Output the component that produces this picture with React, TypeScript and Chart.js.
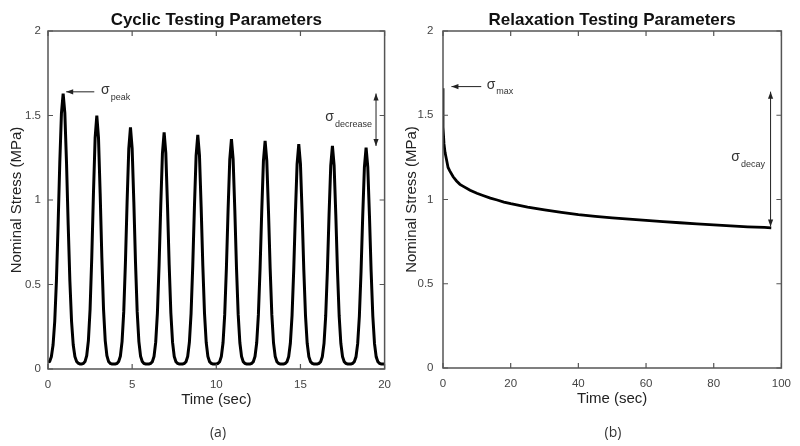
import React, { useEffect, useRef } from 'react';
import { Chart, registerables } from 'chart.js';

Chart.register(...registerables);

// ---------- data ----------
// Cyclic test: stress sampled every 0.1 s from 0 to 20 s
const cyclicSampleStep = 0.1;
const cyclicStress = [
  0.04, 0.045, 0.073, 0.142, 0.281, 0.52, 0.852, 1.22, 1.516, 1.63,
  1.516, 1.22, 0.852, 0.52, 0.281, 0.142, 0.073, 0.045, 0.034, 0.03,
  0.03, 0.033, 0.044, 0.079, 0.168, 0.353, 0.658, 1.037, 1.368, 1.5,
  1.368, 1.037, 0.658, 0.353, 0.168, 0.079, 0.044, 0.033, 0.03, 0.03,
  0.03, 0.033, 0.044, 0.076, 0.162, 0.338, 0.628, 0.989, 1.304, 1.43,
  1.304, 0.989, 0.628, 0.338, 0.162, 0.076, 0.044, 0.033, 0.03, 0.03,
  0.03, 0.033, 0.043, 0.075, 0.159, 0.331, 0.615, 0.968, 1.277, 1.4,
  1.277, 0.968, 0.615, 0.331, 0.159, 0.075, 0.043, 0.033, 0.03, 0.03,
  0.03, 0.033, 0.043, 0.075, 0.157, 0.328, 0.609, 0.958, 1.263, 1.385,
  1.263, 0.958, 0.609, 0.328, 0.157, 0.075, 0.043, 0.033, 0.03, 0.03,
  0.03, 0.033, 0.043, 0.074, 0.155, 0.323, 0.598, 0.941, 1.24, 1.36,
  1.24, 0.941, 0.598, 0.323, 0.155, 0.074, 0.043, 0.033, 0.03, 0.03,
  0.03, 0.033, 0.043, 0.074, 0.154, 0.32, 0.594, 0.934, 1.231, 1.35,
  1.231, 0.934, 0.594, 0.32, 0.154, 0.074, 0.043, 0.033, 0.03, 0.03,
  0.03, 0.033, 0.043, 0.073, 0.152, 0.316, 0.585, 0.921, 1.213, 1.33,
  1.213, 0.921, 0.585, 0.316, 0.152, 0.073, 0.043, 0.033, 0.03, 0.03,
  0.03, 0.033, 0.043, 0.073, 0.151, 0.314, 0.581, 0.914, 1.204, 1.32,
  1.204, 0.914, 0.581, 0.314, 0.151, 0.073, 0.043, 0.033, 0.03, 0.03,
  0.03, 0.033, 0.043, 0.072, 0.15, 0.312, 0.577, 0.907, 1.195, 1.31,
  1.195, 0.907, 0.577, 0.312, 0.15, 0.072, 0.043, 0.033, 0.03, 0.03,
  0.03,
];

// Relaxation test
const relaxTime = [
  0, 0, 0.3, 0.6, 1, 1.5, 2, 3, 4, 5, 6, 8, 10, 12, 14, 16, 18, 20,
  25, 30, 35, 40, 45, 50, 55, 60, 65, 70, 75, 80, 85, 90, 95, 97,
];
const relaxStress = [
  1.66, 1.43, 1.33, 1.28, 1.24, 1.19, 1.17, 1.135, 1.11, 1.09, 1.078, 1.055, 1.037, 1.022, 1.008, 0.997, 0.985, 0.975,
  0.955, 0.938, 0.923, 0.91, 0.9, 0.891, 0.883, 0.876, 0.869, 0.862, 0.855, 0.849, 0.843, 0.838, 0.834, 0.832,
];

const cyclicTimeTicks = [0, 5, 10, 15, 20];
const relaxTimeTicks = [0, 20, 40, 60, 80, 100];
const stressTicks = [0, 0.5, 1, 1.5, 2];

// ---------- styling / helpers ----------
const FONT = '"Liberation Sans", Arial, Helvetica, sans-serif';

type Arrow = { x1: number; y1: number; x2: number; y2: number; both?: boolean };
type Sigma = { x: number; y: number; sub: string };

const decorPlugin = {
  id: 'decor',
  afterDatasetsDraw(chart: any, _args: any, opts: any) {
    const { ctx, chartArea: a, scales } = chart;
    const xs = scales.x;
    const ys = scales.y;
    ctx.save();
    // frame
    ctx.strokeStyle = '#555';
    ctx.lineWidth = 1.5;
    ctx.strokeRect(a.left, a.top, a.right - a.left, a.bottom - a.top);
    // inward ticks on all four sides
    ctx.lineWidth = 1.2;
    const tl = 5;
    ctx.beginPath();
    xs.ticks.forEach((t: any) => {
      const px = xs.getPixelForValue(t.value);
      ctx.moveTo(px, a.bottom);
      ctx.lineTo(px, a.bottom - tl);
      ctx.moveTo(px, a.top);
      ctx.lineTo(px, a.top + tl);
    });
    ys.ticks.forEach((t: any) => {
      const py = ys.getPixelForValue(t.value);
      ctx.moveTo(a.left, py);
      ctx.lineTo(a.left + tl, py);
      ctx.moveTo(a.right, py);
      ctx.lineTo(a.right - tl, py);
    });
    ctx.stroke();

    // title
    ctx.fillStyle = '#111';
    ctx.font = `bold 17px ${FONT}`;
    ctx.textAlign = 'center';
    ctx.textBaseline = 'middle';
    ctx.fillText(opts.title, (a.left + a.right) / 2, a.top - 11);

    // arrows
    const head = (fx: number, fy: number, tx: number, ty: number) => {
      const ang = Math.atan2(ty - fy, tx - fx);
      const len = 7;
      const hw = 2.6;
      ctx.beginPath();
      ctx.moveTo(tx, ty);
      ctx.lineTo(tx - len * Math.cos(ang) + hw * Math.sin(ang), ty - len * Math.sin(ang) - hw * Math.cos(ang));
      ctx.lineTo(tx - len * Math.cos(ang) - hw * Math.sin(ang), ty - len * Math.sin(ang) + hw * Math.cos(ang));
      ctx.closePath();
      ctx.fill();
    };
    ctx.strokeStyle = '#222';
    ctx.fillStyle = '#222';
    ctx.lineWidth = 1;
    (opts.arrows || []).forEach((ar: Arrow) => {
      const x1 = xs.getPixelForValue(ar.x1);
      const y1 = ys.getPixelForValue(ar.y1);
      const x2 = xs.getPixelForValue(ar.x2);
      const y2 = ys.getPixelForValue(ar.y2);
      ctx.beginPath();
      ctx.moveTo(x1, y1);
      ctx.lineTo(x2, y2);
      ctx.stroke();
      head(x1, y1, x2, y2);
      if (ar.both) head(x2, y2, x1, y1);
    });

    // sigma labels
    ctx.fillStyle = '#333';
    ctx.textAlign = 'left';
    ctx.textBaseline = 'middle';
    (opts.sigmas || []).forEach((s: Sigma) => {
      const px = xs.getPixelForValue(s.x);
      const py = ys.getPixelForValue(s.y);
      ctx.font = `14px ${FONT}`;
      ctx.fillText('σ', px, py);
      const w = ctx.measureText('σ').width;
      ctx.font = `9px ${FONT}`;
      ctx.fillText(s.sub, px + w + 1, py + 7);
    });
    ctx.restore();
  },
};

type PanelSpec = {
  title: string;
  timeTicks: number[];
  yWidth: number;
  yTickPad: number;
  yTitlePad: number;
  padRight: number;
  padBottom: number;
  lineWidth: number;
  arrows: Arrow[];
  sigmas: Sigma[];
};

function buildConfig(spec: PanelSpec, points: { x: number; y: number }[]): any {
  const tickFont = { family: FONT, size: 11.5 };
  const titleFont = { family: FONT, size: 15 };
  return {
    type: 'line',
    data: {
      datasets: [
        {
          data: points,
          borderColor: '#000',
          borderWidth: spec.lineWidth,
          pointRadius: 0,
          tension: 0,
          fill: false,
        },
      ],
    },
    options: {
      responsive: false,
      animation: false,
      events: [],
      layout: { padding: { left: 0, right: spec.padRight, top: 31, bottom: spec.padBottom } },
      plugins: {
        legend: { display: false },
        tooltip: { enabled: false },
        decor: { title: spec.title, arrows: spec.arrows, sigmas: spec.sigmas },
      },
      scales: {
        x: {
          type: 'linear',
          min: spec.timeTicks[0],
          max: spec.timeTicks[spec.timeTicks.length - 1],
          afterBuildTicks: (s: any) => {
            s.ticks = spec.timeTicks.map((v) => ({ value: v }));
          },
          ticks: {
            color: '#444',
            font: tickFont,
            padding: 9,
            maxRotation: 0,
            autoSkip: false,
            callback: (v: any) => String(v),
          },
          grid: { display: false, drawTicks: false },
          border: { display: false },
          title: { display: true, text: 'Time (sec)', color: '#222', font: titleFont, padding: 0 },
          afterFit: (s: any) => {
            s.height = 40;
          },
        },
        y: {
          type: 'linear',
          min: stressTicks[0],
          max: stressTicks[stressTicks.length - 1],
          afterBuildTicks: (s: any) => {
            s.ticks = stressTicks.map((v) => ({ value: v }));
          },
          ticks: {
            color: '#444',
            font: tickFont,
            padding: spec.yTickPad,
            autoSkip: false,
            callback: (v: any) => String(v),
          },
          grid: { display: false, drawTicks: false },
          border: { display: false },
          title: {
            display: true,
            text: 'Nominal Stress (MPa)',
            color: '#222',
            font: titleFont,
            padding: { top: spec.yTitlePad, bottom: 0 },
          },
          afterFit: (s: any) => {
            s.width = spec.yWidth;
          },
        },
      },
    },
    plugins: [decorPlugin],
  };
}

const leftSpec: PanelSpec = {
  title: 'Cyclic Testing Parameters',
  timeTicks: cyclicTimeTicks,
  yWidth: 48,
  yTickPad: 7,
  yTitlePad: 8,
  padRight: 12,
  padBottom: 37,
  lineWidth: 3,
  arrows: [
    { x1: 2.75, y1: 1.64, x2: 1.08, y2: 1.64 },
    { x1: 19.49, y1: 1.32, x2: 19.49, y2: 1.63, both: true },
  ],
  sigmas: [
    { x: 3.15, y: 1.65, sub: 'peak' },
    { x: 16.48, y: 1.49, sub: 'decrease' },
  ],
};

const rightSpec: PanelSpec = {
  title: 'Relaxation Testing Parameters',
  timeTicks: relaxTimeTicks,
  yWidth: 43,
  yTickPad: 9.5,
  yTitlePad: 3,
  padRight: 18,
  padBottom: 38,
  lineWidth: 2.8,
  arrows: [
    { x1: 11.3, y1: 1.67, x2: 2.5, y2: 1.67 },
    { x1: 96.8, y1: 0.84, x2: 96.8, y2: 1.64, both: true },
  ],
  sigmas: [
    { x: 12.9, y: 1.68, sub: 'max' },
    { x: 85.2, y: 1.252, sub: 'decay' },
  ],
};

export default function App() {
  const leftRef = useRef<HTMLCanvasElement | null>(null);
  const rightRef = useRef<HTMLCanvasElement | null>(null);

  useEffect(() => {
    const cyclicPoints = cyclicStress.map((v, i) => ({ x: i * cyclicSampleStep, y: v }));
    const relaxPoints = relaxTime.map((t, i) => ({ x: t, y: relaxStress[i] }));
    const c1 = new Chart(leftRef.current as HTMLCanvasElement, buildConfig(leftSpec, cyclicPoints));
    const c2 = new Chart(rightRef.current as HTMLCanvasElement, buildConfig(rightSpec, relaxPoints));
    return () => {
      c1.destroy();
      c2.destroy();
    };
  }, []);

  const caption: React.CSSProperties = {
    position: 'absolute',
    top: 422,
    width: 60,
    textAlign: 'center',
    font: '14px "Open Sans", sans-serif',
    color: '#333',
    lineHeight: '20px',
  };

  return (
    <div style={{ position: 'absolute', left: 0, top: 0, width: 800, height: 446, background: '#fff', overflow: 'hidden' }}>
      <canvas ref={leftRef} width={400} height={446} style={{ position: 'absolute', left: 0, top: 0 }} />
      <canvas ref={rightRef} width={400} height={446} style={{ position: 'absolute', left: 400, top: 0 }} />
      <div style={{ ...caption, left: 188 }}>(a)</div>
      <div style={{ ...caption, left: 583 }}>(b)</div>
    </div>
  );
}
